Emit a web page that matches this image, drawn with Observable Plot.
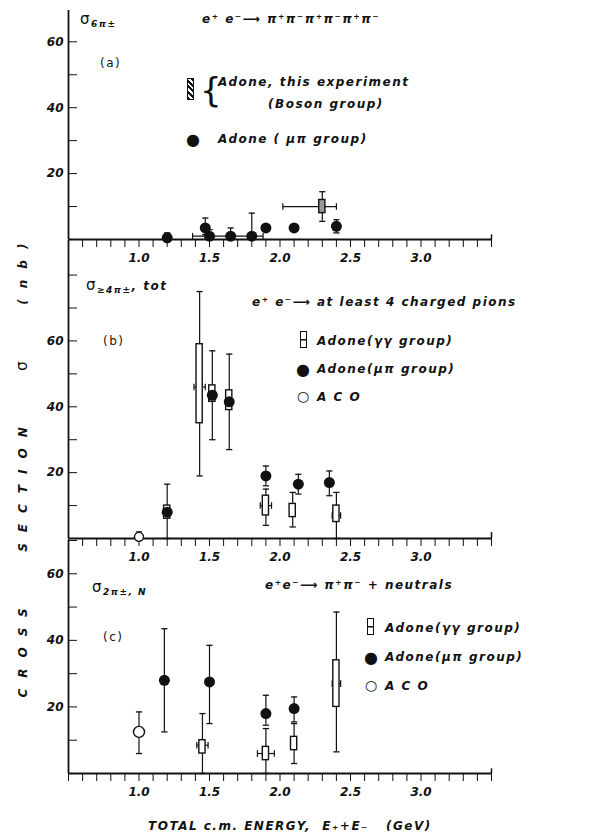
<!DOCTYPE html>
<html>
<head>
<meta charset="utf-8">
<script src="https://cdn.jsdelivr.net/npm/d3@7"></script>
<script src="https://cdn.jsdelivr.net/npm/@observablehq/plot@0.6"></script>
<style>
  body { margin: 0; background: #fff; }
  #fig { position: relative; width: 615px; height: 838px; font-family: "DejaVu Sans", sans-serif; font-style: italic; font-weight: bold; color: #111; }
  #fig svg { position: absolute; left: 0; overflow: visible; }
  .t { position: absolute; white-space: pre; font-size: 12px; letter-spacing: 1.5px; }
  .s { font-size: 15px; font-weight: normal; font-style: normal; }
  .gg { display: inline-block; width: 5px; height: 15px; border: 1.5px solid #111; background: linear-gradient(#111,#111) center/100% 1.5px no-repeat; vertical-align: middle; }
  sub { font-size: 9px; }
</style>
</head>
<body>
<div id="fig"></div>
<script>
// panel (a): 6 charged pions
const aMuPi = [
  {e: 1.2, v: 0.5, lo: 0, hi: 2},
  {e: 1.47, v: 3.5, lo: 1.5, hi: 6.5},
  {e: 1.5, v: 1, lo: 0, hi: 3},
  {e: 1.65, v: 1, lo: 0, hi: 3.5},
  {e: 1.8, v: 1, lo: 0, hi: 8},
  {e: 1.9, v: 3.5, lo: 3.5, hi: 3.5},
  {e: 2.1, v: 3.5, lo: 3.5, hi: 3.5},
  {e: 2.4, v: 4, lo: 2, hi: 6}
];
const aBoson = [{e: 2.3, v: 10, lo: 5.5, hi: 14.5, blo: 8, bhi: 12, xlo: 2.02, xhi: 2.4}];
const aSpan = [{e: 1.63, v: 1, xlo: 1.38, xhi: 1.88}];

// panel (b): at least 4 charged pions
const bGG = [
  {e: 1.2, v: 8, blo: 6, bhi: 10, lo: 0, hi: 16.5},
  {e: 1.43, v: 46, blo: 35, bhi: 59, lo: 19, hi: 75, xlo: 1.39, xhi: 1.47},
  {e: 1.52, v: 44, blo: 41.5, bhi: 46.5},
  {e: 1.64, v: 42, blo: 39, bhi: 45},
  {e: 1.9, v: 10, blo: 7, bhi: 13, lo: 4, hi: 15, xlo: 1.86, xhi: 1.94},
  {e: 2.09, v: 8.5, blo: 6.5, bhi: 10.5, lo: 3.5, hi: 14},
  {e: 2.4, v: 7, blo: 5, bhi: 10, lo: 0, hi: 14, xlo: 2.37, xhi: 2.43}
];
const bMuPi = [
  {e: 1.2, v: 8, lo: 8, hi: 8},
  {e: 1.52, v: 43.5, lo: 30, hi: 57},
  {e: 1.64, v: 41.5, lo: 27, hi: 56},
  {e: 1.9, v: 19, lo: 16, hi: 22},
  {e: 2.13, v: 16.5, lo: 13.5, hi: 19.5},
  {e: 2.35, v: 17, lo: 13, hi: 20.5}
];
const bACO = [{e: 1.0, v: 0.5, lo: 0, hi: 2}];

// panel (c): 2 charged pions + neutrals
const cGG = [
  {e: 1.45, v: 8.5, blo: 6, bhi: 10, lo: 0, hi: 18, xlo: 1.41, xhi: 1.49},
  {e: 1.9, v: 6, blo: 4, bhi: 8, lo: 0, hi: 13.5, xlo: 1.84, xhi: 1.96},
  {e: 2.1, v: 9, blo: 7, bhi: 11, lo: 3, hi: 15},
  {e: 2.4, v: 27, blo: 20, bhi: 34, lo: 6.5, hi: 48.5, xlo: 2.37, xhi: 2.43}
];
const cMuPi = [
  {e: 1.18, v: 28, lo: 12.5, hi: 43.5},
  {e: 1.5, v: 27.5, lo: 15, hi: 38.5},
  {e: 1.9, v: 18, lo: 14.5, hi: 23.5},
  {e: 2.1, v: 19.5, lo: 15.5, hi: 23}
];
const cACO = [{e: 1.0, v: 12.5, lo: 6, hi: 18.5}];

const xTicks = d3.range(5, 36).map(i => i / 10);
const xLabels = [1.0, 1.5, 2.0, 2.5, 3.0];
const yTicks = d3.range(0, 90, 10);
const yLabels = [20, 40, 60];

const fig = document.getElementById("fig");
const fontStyle = {fontFamily: "DejaVu Sans", fontStyle: "italic", fontWeight: "bold", fontSize: "12px", color: "#111", background: "none"};

function errs(data) {
  const d = data.filter(p => p.lo != null && p.hi > p.lo);
  return [
    Plot.ruleX(d, {x: "e", y1: "lo", y2: "hi", stroke: "#111", strokeWidth: 1.2}),
    Plot.link(d, {x1: p => p.e - 0.022, x2: p => p.e + 0.022, y1: "hi", y2: "hi", stroke: "#111", strokeWidth: 1.3}),
    Plot.link(d, {x1: p => p.e - 0.022, x2: p => p.e + 0.022, y1: "lo", y2: "lo", stroke: "#111", strokeWidth: 1.3})
  ];
}
function xerrs(data) {
  const d = data.filter(p => p.xlo != null);
  return [
    Plot.link(d, {x1: "xlo", x2: "xhi", y1: "v", y2: "v", stroke: "#111", strokeWidth: 1.2}),
    Plot.link(d, {x1: "xlo", x2: "xlo", y1: p => p.v - 1, y2: p => p.v + 1, stroke: "#111", strokeWidth: 1.2}),
    Plot.link(d, {x1: "xhi", x2: "xhi", y1: p => p.v - 1, y2: p => p.v + 1, stroke: "#111", strokeWidth: 1.2})
  ];
}
function boxes(data, fill) {
  return Plot.rect(data, {x1: p => p.e - 0.022, x2: p => p.e + 0.022, y1: "blo", y2: "bhi", fill, stroke: "#111", strokeWidth: 1.4});
}

function panel(top, h, ymax, mb, marks) {
  const chart = Plot.plot({
    width: 615, height: 10 + h + mb,
    marginLeft: 68, marginRight: 124, marginTop: 10, marginBottom: mb,
    style: fontStyle,
    x: {domain: [0.5, 3.5]},
    y: {domain: [0, ymax]},
    marks: [
      Plot.axisX({ticks: xTicks, tickSize: 8, tickPadding: 6, tickFormat: d => xLabels.some(v => Math.abs(v - d) < 1e-9) ? d.toFixed(1) : "", label: null}),
      Plot.axisY({ticks: yTicks.filter(t => t <= ymax), tickSize: -9, tickPadding: 14, tickFormat: d => yLabels.includes(d) ? d : "", label: null}),
      Plot.ruleY([0], {stroke: "#111", strokeWidth: 1.8}),
      Plot.ruleX([0.5], {stroke: "#111", strokeWidth: 1.8}),
      Plot.ruleX([3.5], {y1: 0, y2: ymax * 0.02, stroke: "#111", strokeWidth: 1.5}),
      ...marks
    ]
  });
  chart.style.top = top + "px";
  fig.append(chart);
}

panel(0, 229, 69.5, 30, [
  ...errs(aMuPi), ...xerrs(aSpan),
  Plot.dot(aMuPi, {x: "e", y: "v", r: 5.5, fill: "#111"}),
  ...errs(aBoson), ...xerrs(aBoson),
  boxes(aBoson, "#999")
]);
panel(230, 298, 90.5, 30, [
  ...errs(bGG), ...errs(bMuPi), ...errs(bACO), ...xerrs(bGG),
  boxes(bGG, "white"),
  Plot.dot(bMuPi, {x: "e", y: "v", r: 5.5, fill: "#111"}),
  Plot.dot(bACO, {x: "e", y: "v", r: 4.5, fill: "white", stroke: "#111", strokeWidth: 1.4})
]);
panel(530, 233, 70, 75, [
  ...errs(cGG), ...errs(cMuPi), ...errs(cACO), ...xerrs(cGG),
  boxes(cGG, "white"),
  Plot.dot(cMuPi, {x: "e", y: "v", r: 5.5, fill: "#111"}),
  Plot.dot(cACO, {x: "e", y: "v", r: 5.5, fill: "white", stroke: "#111", strokeWidth: 1.4})
]);

// annotations and legends
const notes = [
  [80, 10, '<span class="s">σ</span><sub>6π±</sub>'],
  [202, 12, 'e⁺ e⁻⟶ π⁺π⁻π⁺π⁻π⁺π⁻'],
  [100, 56, '<span style="font-weight:normal;font-style:normal">(a)</span>'],
  [187, 78, '<span style="display:inline-block;width:5px;height:20px;border:1.5px solid #111;background:repeating-linear-gradient(45deg,#111 0 2px,#fff 2px 4px)"></span>'],
  [200, 70, '<span style="font-size:34px;font-weight:normal;font-style:normal">{</span>'],
  [218, 75, 'Adone, this experiment'],
  [268, 97, '(Boson group)'],
  [186, 130, '<span style="font-size:16px;font-style:normal">●</span>'],
  [218, 132, 'Adone ( μπ group)'],
  [86, 276, '<span class="s">σ</span><sub>≥4π±</sub>, tot'],
  [252, 295, 'e⁺ e⁻⟶ at least 4 charged pions'],
  [103, 334, '<span style="font-weight:normal;font-style:normal">(b)</span>'],
  [300, 331, '<span class="gg"></span>'],
  [317, 334, 'Adone(γγ group)'],
  [296, 360, '<span style="font-size:16px;font-style:normal">●</span>'],
  [317, 362, 'Adone(μπ group)'],
  [297, 388, '<span style="font-style:normal;font-size:14px">○</span>'],
  [317, 390, 'A C O'],
  [92, 578, '<span class="s">σ</span><sub>2π±, N</sub>'],
  [265, 578, 'e⁺e⁻⟶ π⁺π⁻ + neutrals'],
  [103, 630, '<span style="font-weight:normal;font-style:normal">(c)</span>'],
  [367, 618, '<span class="gg"></span>'],
  [385, 621, 'Adone(γγ group)'],
  [364, 648, '<span style="font-size:16px;font-style:normal">●</span>'],
  [385, 650, 'Adone(μπ group)'],
  [365, 677, '<span style="font-style:normal;font-size:14px">○</span>'],
  [385, 679, 'A C O'],
  [148, 819, 'TOTAL c.m. ENERGY,  E₊+E₋   (GeV)']
];
notes.forEach(([x, y, html]) => {
  const d = document.createElement("div");
  d.className = "t";
  d.style.left = x + "px";
  d.style.top = y + "px";
  d.innerHTML = html;
  fig.append(d);
});

const ytitle = document.createElement("div");
ytitle.className = "t";
ytitle.style.cssText += "letter-spacing:11px;transform:translate(-50%,-50%) rotate(-90deg);";
ytitle.style.left = "22px";
ytitle.style.top = "465px";
ytitle.innerHTML = 'CROSS   SECTION   <span class="s">σ</span>   (nb)';
fig.append(ytitle);
</script>
</body>
</html>
